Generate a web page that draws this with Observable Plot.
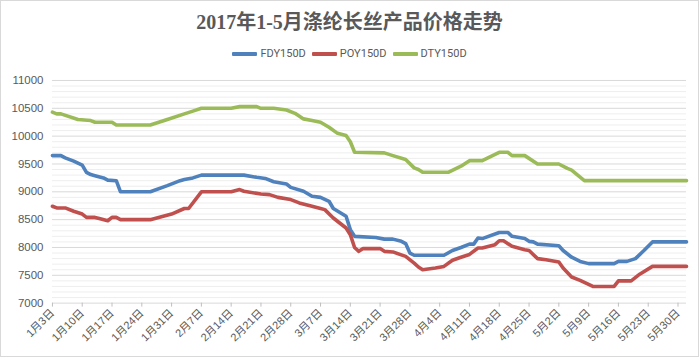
<!DOCTYPE html>
<html><head><meta charset="utf-8">
<script src="https://cdn.jsdelivr.net/npm/d3@7"></script>
<script src="https://cdn.jsdelivr.net/npm/@observablehq/plot@0.6"></script>
<style>
body{margin:0;background:#fff;}
#chart{position:relative;width:699px;height:357px;border:1px solid #d9d9d9;box-sizing:border-box;background:#fff;overflow:hidden;}
#title{position:absolute;top:8px;left:0;width:100%;text-align:center;font:bold 20px "Liberation Serif","Noto Sans CJK SC",serif;color:#595959;line-height:26px;}
#legend{position:absolute;top:46px;left:0;width:100%;display:flex;justify-content:center;align-items:center;font:11px "Liberation Sans Narrow","Roboto",sans-serif;color:#595959;}
#legend .item{display:flex;align-items:center;margin:0 3px;}
#legend .sw{width:25px;height:4px;margin-right:3px;border-radius:1px;}
#plot{position:absolute;top:59px;left:0;}
</style></head>
<body>
<div id="chart"><div id="title">2017年1-5月涤纶长丝产品价格走势</div><div id="legend"></div><div id="plot"></div></div>
<script>
const seriesNames = ["FDY150D","POY150D","DTY150D"];
const seriesColors = ["#4F81BD","#C0504D","#9BBB59"];

const fdyDates = ["01-03","01-05","01-06","01-08","01-10","01-11","01-12","01-13","01-15","01-16","01-18","01-19","01-26","01-30","02-02","02-03","02-05","02-07","02-17","02-20","02-22","02-24","02-27","02-28","03-03","03-05","03-07","03-09","03-10","03-13","03-14","03-15","03-20","03-22","03-24","03-26","03-27","03-28","03-29","04-05","04-07","04-09","04-11","04-12","04-13","04-14","04-18","04-20","04-21","04-24","04-25","04-26","04-27","05-02","05-03","05-05","05-07","05-09","05-15","05-16","05-18","05-20","05-22","05-24","06-01"];
const fdyValues = [9650,9650,9610,9550,9480,9350,9310,9290,9250,9210,9200,9000,9000,9110,9200,9220,9250,9300,9300,9260,9240,9180,9140,9080,9010,8920,8900,8830,8700,8560,8320,8200,8180,8150,8150,8110,8070,7900,7860,7860,7945,8000,8060,8060,8170,8160,8270,8270,8200,8160,8110,8100,8060,8030,7945,7825,7750,7710,7710,7750,7750,7800,7945,8100,8100];

const poyDates = ["01-03","01-04","01-06","01-08","01-10","01-11","01-13","01-14","01-16","01-17","01-18","01-19","01-26","01-31","02-03","02-04","02-07","02-14","02-16","02-17","02-21","02-23","02-25","02-28","03-02","03-05","03-07","03-08","03-10","03-13","03-14","03-15","03-16","03-17","03-21","03-22","03-24","03-27","03-29","03-30","03-31","04-03","04-05","04-07","04-09","04-11","04-13","04-14","04-17","04-18","04-19","04-21","04-24","04-25","04-27","04-29","05-02","05-03","05-05","05-07","05-10","05-15","05-16","05-19","05-21","05-24","06-01"];
const poyValues = [8740,8710,8710,8650,8600,8540,8540,8520,8480,8540,8540,8500,8500,8600,8700,8700,9000,9000,9040,9010,8960,8950,8900,8860,8800,8740,8700,8680,8530,8350,8230,8000,7930,7980,7980,7930,7920,7840,7720,7650,7600,7630,7660,7770,7825,7875,7990,7990,8050,8120,8120,8020,7960,7945,7800,7780,7740,7630,7470,7410,7300,7300,7400,7400,7520,7660,7660];

const dtyDates = ["01-03","01-04","01-05","01-09","01-12","01-13","01-17","01-18","01-26","01-30","02-03","02-05","02-07","02-14","02-16","02-20","02-21","02-24","02-27","03-01","03-03","03-05","03-07","03-09","03-11","03-13","03-14","03-15","03-22","03-24","03-27","03-29","03-30","03-31","04-06","04-09","04-11","04-14","04-18","04-20","04-21","04-24","04-27","05-02","05-04","05-05","05-08","06-01"];
const dtyValues = [10430,10400,10400,10300,10280,10250,10250,10200,10200,10300,10400,10450,10500,10500,10530,10530,10500,10500,10470,10410,10310,10280,10250,10160,10050,10010,9900,9710,9700,9650,9580,9430,9400,9350,9350,9460,9560,9560,9710,9710,9650,9650,9500,9500,9420,9390,9200,9200];

const xTickDates = ["01-03","01-10","01-17","01-24","01-31","02-07","02-14","02-21","02-28","03-07","03-14","03-21","03-28","04-04","04-11","04-18","04-25","05-02","05-09","05-16","05-23","05-30"];
const yTicks = [7000,7500,8000,8500,9000,9500,10000,10500,11000];
const yMinor = [7100,7200,7300,7400,7600,7700,7800,7900,8100,8200,8300,8400,8600,8700,8800,8900,9100,9200,9300,9400,9600,9700,9800,9900,10100,10200,10300,10400,10600,10700,10800,10900];

const parse = s => d3.utcParse("%Y-%m-%d")("2017-" + s);
const rows = [];
[[fdyDates, fdyValues], [poyDates, poyValues], [dtyDates, dtyValues]].forEach(([ds, vs], i) => {
  ds.forEach((d, j) => rows.push({series: seriesNames[i], date: parse(d), value: vs[j]}));
});

const legend = document.getElementById("legend");
seriesNames.forEach((n, i) => {
  const it = document.createElement("div"); it.className = "item";
  it.innerHTML = `<div class="sw" style="background:${seriesColors[i]}"></div><span>${n}</span>`;
  legend.appendChild(it);
});

const chart = Plot.plot({
  width: 698, height: 297,
  marginTop: 20, marginBottom: 54, marginLeft: 51, marginRight: 12,
  style: {fontFamily: '"Liberation Sans","Noto Sans CJK SC",sans-serif', background: "transparent"},
  x: {type: "utc", domain: [parse("01-03"), parse("06-01")]},
  y: {domain: [7000, 11000]},
  color: {domain: seriesNames, range: seriesColors},
  marks: [
    Plot.ruleY(yMinor, {stroke: "#eeeeee"}),
    Plot.ruleY(yTicks, {stroke: "#d9d9d9"}),
    Plot.axisY({ticks: yTicks, tickFormat: d => String(d), tickSize: 0, tickPadding: 9, fontSize: 11.5, fill: "#595959", label: null}),
    Plot.axisX({ticks: xTickDates.map(parse), tickFormat: d => `${d.getUTCMonth()+1}月${d.getUTCDate()}日`,
      tickRotate: -45, tickSize: 4, tickPadding: 4, stroke: "#bfbfbf", fill: "#595959", fontSize: 11, label: null}),
    Plot.lineY(rows, {x: "date", y: "value", z: "series", stroke: "series", strokeWidth: 3.6, strokeLinejoin: "round", strokeLinecap: "round"})
  ]
});
document.getElementById("plot").appendChild(chart);
</script>
</body></html>
